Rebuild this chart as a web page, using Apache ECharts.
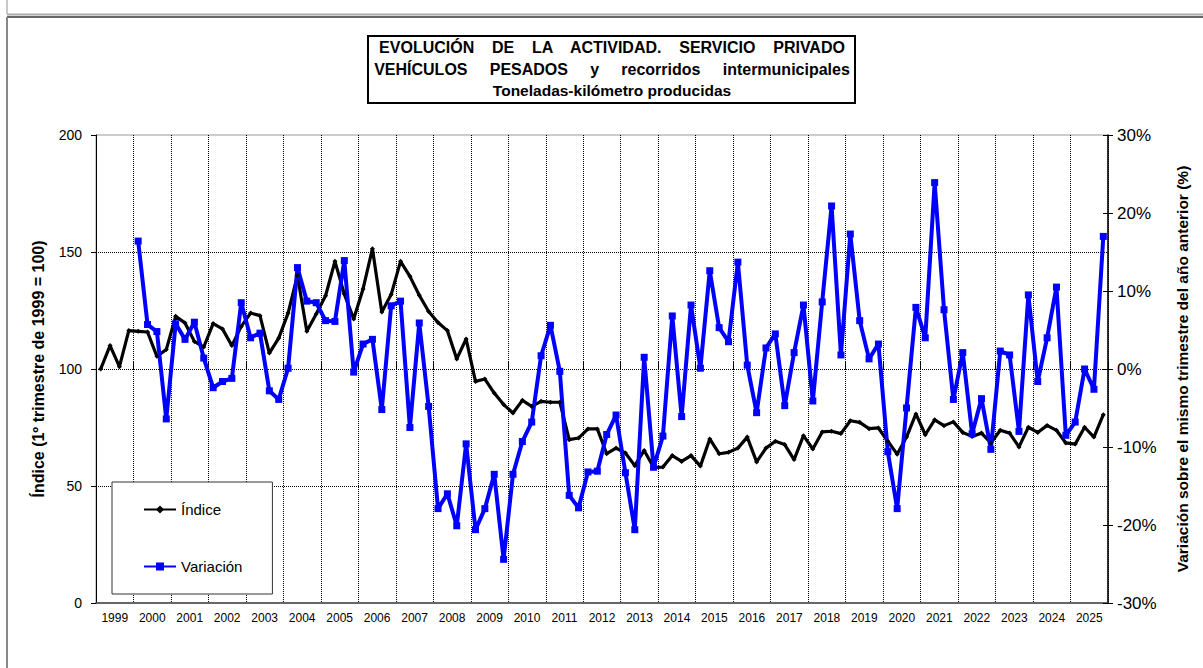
<!DOCTYPE html>
<html lang="es">
<head>
<meta charset="UTF-8">
<title>Evolución de la actividad - vehículos pesados</title>
<script src="https://cdn.jsdelivr.net/npm/echarts@6/dist/echarts.min.js"></script>
<style>
    html, body { margin: 0; padding: 0; background: #fff; }
    #chart { width: 1203px; height: 668px; }
</style>
</head>
<body>
<div id="chart"></div>
<script>
    // años del eje (etiquetas) y trimestres
    var years = ['1999', '2000', '2001', '2002', '2003', '2004', '2005', '2006', '2007',
        '2008', '2009', '2010', '2011', '2012', '2013', '2014', '2015', '2016', '2017',
        '2018', '2019', '2020', '2021', '2022', '2023', '2024', '2025'];
    var quarters = ['T1', 'T2', 'T3', 'T4'];

    // Índice (1º trimestre de 1999 = 100), un valor por trimestre
    var indice = [
        100, 110, 101, 116.4,      116.1, 115.8, 105.4, 108.3,   // 1999-2000
        122.5, 119.7, 111.8, 109.4, 119.4, 117.1, 110.0, 118.2,   // 2001-2002
        123.9, 122.8, 106.8, 113.2, 123.9, 140.0, 116.1, 123.5,   // 2003-2004
        131.3, 146.0, 132.0, 121.4, 134.2, 151.4, 124.4, 131.8,   // 2005-2006
        146.0, 139.6, 131.5, 124.6, 119.9, 116.4, 104.3, 112.8,   // 2007-2008
        94.7, 95.7, 89.7, 84.8,     81.2, 86.6, 84.0, 86.2,       // 2009-2010
        85.8, 85.8, 69.8, 70.5,     74.4, 74.4, 63.8, 66.2,       // 2011-2012
        64.1, 58.7, 65.2, 58.0,     58.1, 63.0, 60.5, 63.0,       // 2013-2014
        58.5, 70.1, 63.8, 64.4,     66.2, 70.9, 60.3, 66.2,       // 2015-2016
        69.1, 67.7, 61.3, 71.5,     65.8, 73.1, 73.4, 72.4,       // 2017-2018
        77.9, 77.2, 74.5, 74.8,     69.1, 63.6, 70.9, 80.8,       // 2019-2020
        71.9, 78.3, 75.8, 77.4,     72.9, 71.2, 72.6, 68.4,       // 2021-2022
        73.8, 72.6, 66.7, 75.1,     72.9, 75.9, 73.8, 68.4,       // 2023-2024
        67.9, 75.1, 70.9, 80.5                                    // 2025
    ];

    // Variación sobre el mismo trimestre del año anterior (%)
    var variacion = [
        null, null, null, null,     16.4, 5.7, 4.8, -6.4,         // 1999-2000
        5.8, 3.8, 6.0, 1.4,         -2.4, -1.6, -1.2, 8.5,        // 2001-2002
        4.0, 4.6, -2.8, -3.9,       0.1, 13.0, 8.7, 8.5,          // 2003-2004
        6.2, 6.1, 13.9, -0.4,       3.2, 3.8, -5.2, 8.1,          // 2005-2006
        8.7, -7.5, 5.9, -4.8,       -17.9, -16.0, -20.1, -9.6,    // 2007-2008
        -20.6, -17.9, -13.5, -24.4, -13.5, -9.3, -6.8, 1.7,       // 2009-2010
        5.6, -0.3, -16.2, -17.8,    -13.2, -13.1, -8.4, -5.9,     // 2011-2012
        -13.3, -20.6, 1.5, -12.6,   -8.6, 6.8, -6.1, 8.2,         // 2013-2014
        0.1, 12.6, 5.3, 3.5,        13.7, 0.5, -5.6, 2.7,         // 2015-2016
        4.5, -4.7, 2.1, 8.2,        -4.1, 8.6, 20.9, 1.8,         // 2017-2018
        17.3, 6.2, 1.3, 3.2,        -10.6, -17.9, -5.0, 7.9,      // 2019-2020
        4.0, 23.9, 7.6, -3.9,       2.1, -8.3, -3.8, -10.3,       // 2021-2022
        2.3, 1.8, -8.0, 9.5,        -1.6, 4.0, 10.5, -8.5,        // 2023-2024
        -6.8, 0.0, -2.6, 17.0                                     // 2025
    ];

    var categorias = [];
    years.forEach(function (y) {
        quarters.forEach(function (q) { categorias.push(y + ' ' + q); });
    });

    var FONT = '"Liberation Sans", Arial, Helvetica, sans-serif';
    var dotted = { color: '#000', type: [1, 1], width: 1 };

    var chart = echarts.init(document.getElementById('chart'), null, { renderer: 'svg' });
    chart.setOption({
        animation: false,
        backgroundColor: '#fff',
        textStyle: { fontFamily: FONT, color: '#000' },
        grid: { left: 96, right: 95, top: 135, bottom: 65, show: true, borderColor: '#999', borderWidth: 1 },
        graphic: [
            // marco de la hoja
            { type: 'line', shape: { x1: 7, y1: 0, x2: 7, y2: 14 }, style: { stroke: '#c8c8c8', lineWidth: 2 } },
            { type: 'line', shape: { x1: 7, y1: 14.5, x2: 1203, y2: 14.5 }, style: { stroke: '#aaa', lineWidth: 2 } },
            { type: 'line', shape: { x1: 7, y1: 17, x2: 1203, y2: 17 }, style: { stroke: '#333', lineWidth: 1.5 } },
            { type: 'line', shape: { x1: 7, y1: 17, x2: 7, y2: 668 }, style: { stroke: '#888', lineWidth: 2 } },
            // cuadro del título
            { type: 'rect', shape: { x: 368, y: 36, width: 487, height: 67 }, style: { fill: '#fff', stroke: '#000', lineWidth: 2 } },
            {
                type: 'text', x: 612, y: 37,
                style: {
                    text: '{a|EVOLUCIÓN    DE    LA    ACTIVIDAD.    SERVICIO    PRIVADO}\n' +
                          '{a|VEHÍCULOS     PESADOS     y     recorridos     intermunicipales}\n' +
                          '{b|Toneladas-kilómetro producidas}',
                    fill: '#000', align: 'center', verticalAlign: 'top',
                    rich: {
                        a: { fontFamily: FONT, fontSize: 16, fontWeight: 'bold', lineHeight: 21.5, fill: '#000' },
                        b: { fontFamily: FONT, fontSize: 15.5, fontWeight: 'bold', lineHeight: 21.5, fill: '#000' }
                    }
                }
            }
        ],
        legend: {
            orient: 'vertical', left: 112, top: 482,
            itemWidth: 32, itemHeight: 10, itemGap: 42,
            padding: [20, 30, 20, 31],
            borderColor: '#333', borderWidth: 1, backgroundColor: '#fff',
            textStyle: { fontSize: 15, color: '#000' },
            data: ['Índice', 'Variación']
        },
        xAxis: [
            {
                type: 'category', data: categorias, boundaryGap: true,
                axisLine: { lineStyle: { color: '#444', width: 1.5 } },
                axisTick: { show: false }, axisLabel: { show: false }, splitLine: { show: false }
            },
            {
                type: 'category', data: years, position: 'bottom', boundaryGap: true,
                axisLine: { show: false },
                axisTick: { show: true, inside: true, length: 7, interval: 0, lineStyle: { color: '#000' } },
                axisLabel: { interval: 0, fontSize: 12, margin: 9, color: '#000' },
                splitLine: { show: true, interval: 0, lineStyle: dotted }
            }
        ],
        yAxis: [
            {
                type: 'value', min: 0, max: 200, interval: 50, position: 'left',
                name: 'Índice (1º trimestre de 1999 = 100)', nameLocation: 'middle', nameGap: 50, nameRotate: 90,
                nameTextStyle: { fontWeight: 'bold', fontSize: 16, color: '#000' },
                axisLine: { show: true, lineStyle: { color: '#000' } },
                axisTick: { show: true, length: 5, lineStyle: { color: '#000' } },
                axisLabel: { fontSize: 14, margin: 14, color: '#000' },
                splitLine: { show: true, showMinLine: false, showMaxLine: false, lineStyle: dotted }
            },
            {
                type: 'value', min: -30, max: 30, interval: 10, position: 'right',
                name: 'Variación sobre el mismo trimestre del año anterior (%)', nameLocation: 'middle', nameGap: 66, nameRotate: 90,
                nameTextStyle: { fontWeight: 'bold', fontSize: 15.5, color: '#000' },
                axisLine: { show: true, lineStyle: { color: '#000', width: 1.5 } },
                axisTick: { show: true, length: 5, lineStyle: { color: '#000' } },
                axisLabel: { fontSize: 17, margin: 9, color: '#000', formatter: '{value}%' },
                splitLine: { show: false }
            },
            {
                // marcas interiores del eje derecho (las marcas cruzan el eje)
                type: 'value', min: -30, max: 30, interval: 10, position: 'right',
                axisLine: { show: false },
                axisTick: { show: true, inside: true, length: 5, lineStyle: { color: '#000' } },
                axisLabel: { show: false }, splitLine: { show: false }
            }
        ],
        series: [
            {
                name: 'Índice', type: 'line', data: indice, xAxisIndex: 0, yAxisIndex: 0,
                symbol: 'diamond', symbolSize: 5, showAllSymbol: true,
                lineStyle: { color: '#000', width: 3.2 }, itemStyle: { color: '#000' }
            },
            {
                name: 'Variación', type: 'line', data: variacion, xAxisIndex: 0, yAxisIndex: 1,
                symbol: 'rect', symbolSize: 7, showAllSymbol: true,
                lineStyle: { color: '#0000ff', width: 4 }, itemStyle: { color: '#0000ff' }
            }
        ]
    });
</script>
</body>
</html>
